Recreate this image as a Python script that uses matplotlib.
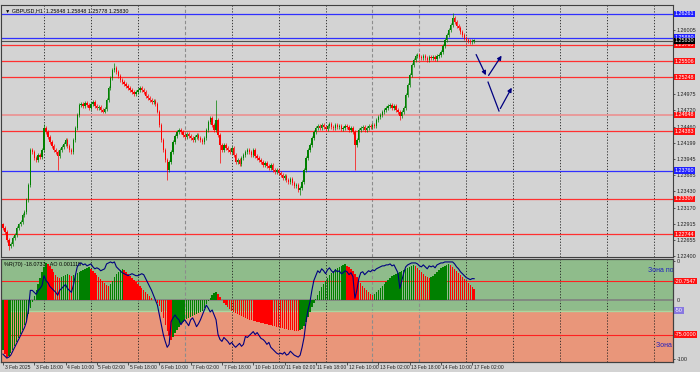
import numpy as np
import matplotlib
matplotlib.use('Agg')
import matplotlib.pyplot as plt

# ---- data ----
first_open = 1.2290
closes = [
    1.2284, 1.2278, 1.2265, 1.2255, 1.2259,
    1.2268, 1.2273, 1.2284, 1.2290, 1.2294, 1.2305, 1.2310,
    1.2329, 1.2353, 1.2409,
    1.2406, 1.2396, 1.2393, 1.2401, 1.2398, 1.2409,
    1.2444, 1.2437,
    1.2429, 1.2421, 1.2415, 1.2409, 1.2406, 1.2399, 1.2409,
    1.2414, 1.2418, 1.2425, 1.2415, 1.2409, 1.2406, 1.2425,
    1.2444, 1.2465, 1.2481, 1.2482,
    1.2479, 1.2484, 1.2481, 1.2476, 1.2482, 1.2485, 1.2479, 1.2476, 1.2477, 1.2473, 1.2470, 1.2474,
    1.2489, 1.2508, 1.2524, 1.2536, 1.2540,
    1.2533, 1.2527, 1.2520, 1.2517, 1.2514,
    1.2511, 1.2508, 1.2505, 1.2501, 1.2498, 1.2501, 1.2505, 1.2508, 1.2505, 1.2501,
    1.2495, 1.2492, 1.2489, 1.2485, 1.2487, 1.2482,
    1.2470, 1.2449, 1.2425, 1.2409,
    1.2393, 1.2377, 1.2390,
    1.2406, 1.2422, 1.2431, 1.2437, 1.2441,
    1.2437, 1.2433, 1.2429, 1.2434, 1.2431, 1.2428, 1.2425, 1.2429, 1.2433, 1.2428, 1.2425, 1.2422, 1.2428,
    1.2441, 1.2453, 1.2460, 1.2449, 1.2441,
    1.2457, 1.2433, 1.2417, 1.2409,
    1.2417, 1.2412, 1.2409, 1.2406, 1.2412, 1.2401, 1.2390,
    1.2393, 1.2387, 1.2396, 1.2401, 1.2406, 1.2409,
    1.2406, 1.2401, 1.2409, 1.2399, 1.2396, 1.2393, 1.2390,
    1.2385, 1.2388, 1.2383, 1.2380, 1.2385, 1.2377, 1.2374, 1.2377,
    1.2372, 1.2369, 1.2364, 1.2367, 1.2361, 1.2358, 1.2363,
    1.2356, 1.2351, 1.2353, 1.2345, 1.2348, 1.2358,
    1.2377, 1.2396, 1.2409, 1.2417, 1.2428, 1.2437, 1.2444,
    1.2447, 1.2444, 1.2449, 1.2445, 1.2442, 1.2447, 1.2450, 1.2445, 1.2444,
    1.2449, 1.2445, 1.2447, 1.2442, 1.2444, 1.2447, 1.2445, 1.2441, 1.2444,
    1.2437, 1.2417, 1.2425, 1.2441,
    1.2444, 1.2445, 1.2441, 1.2444, 1.2447, 1.2445, 1.2449, 1.2447,
    1.2457, 1.2461, 1.2465, 1.2469, 1.2473, 1.2476, 1.2479, 1.2481, 1.2476, 1.2479,
    1.2473, 1.2469, 1.2463, 1.2469, 1.2476,
    1.2497, 1.2512, 1.2528, 1.2544, 1.2552, 1.2559,
    1.2560, 1.2557, 1.2555, 1.2559, 1.2555, 1.2552, 1.2557, 1.2555, 1.2557, 1.2554, 1.2559, 1.2560, 1.2565,
    1.2575, 1.2584, 1.2592, 1.2600, 1.2608,
    1.2619, 1.2613, 1.2607,
    1.2603, 1.2597, 1.2592, 1.2587, 1.2584, 1.2583, 1.2581, 1.2583, 1.2583,
]
# long shadows that stick out of the normal candle range
spike_high = {21: 1.2450, 57: 1.2548, 109: 1.2489, 230: 1.2627}
spike_low = {3: 1.2250, 28: 1.2377, 84: 1.2361, 111: 1.2388, 152: 1.2337, 180: 1.2377, 203: 1.2457}

# Awesome Oscillator, in pips (x 0.0001)
ao_pips = [
    -50, -54, -57, -56, -53,
    -50, -46, -42, -38, -34, -30, -25, -20, -14, -8,
    -2, 4, 10, 16, 22, 28, 33, 37,
    36, 34, 31, 28, 25, 23, 22,
    23, 24, 25, 26, 25, 24, 25,
    26, 27, 28, 29, 30, 31, 32, 33,
    31, 29, 27, 25, 23, 21, 19, 17, 15, 14,
    16, 19, 23, 26, 28, 30, 31, 30,
    28, 26, 24, 22, 20, 18, 16, 14, 12, 10, 8, 6, 4, 2,
    0, -1, -3, -6,
    -12, -18, -25, -31, -36, -40,
    -37, -33, -30, -27, -24, -22, -20, -19, -18, -17, -16, -15, -14, -13, -12, -11,
    -8, -4, -1, 2, 5, 7, 8, 6,
    3, 0, -3, -5, -7, -9, -11, -12, -13, -14, -15, -16, -17,
    -18, -19, -20, -20, -21, -21, -22, -22, -23, -23, -24, -24, -25, -25, -26, -26, -27,
    -27, -28, -28, -29, -29, -30, -30, -30, -31, -31, -31, -30, -29,
    -26, -22, -17, -12, -7, -3, 1,
    5, 9, 13, 16, 19, 22, 25, 27, 29, 31, 32, 33, 34, 35, 36,
    34, 33, 31, 29, 26, 23, 20, 17, 14, 12, 10, 8, 6, 5,
    6, 8, 10, 12, 14, 16, 18, 20, 22, 24, 25, 26, 27, 28, 29, 30, 31, 32, 33, 34, 35,
    34, 32, 30, 28, 26, 24, 23, 22,
    23, 24, 26, 28, 30, 32, 33, 34, 35, 36,
    35, 33, 31, 29, 27, 25, 23, 21, 19, 17, 15, 13, 11,
]

# Williams %R(70)
wpr = [
    -95, -97, -99, -98, -96,
    -92, -88, -84, -80, -76, -72, -68, -62, -50, -30,
    -30, -32, -34, -30, -28, -25,
    -15, -20,
    -22, -26, -28, -30, -32, -35, -30,
    -28, -26, -24, -28, -30, -32, -25,
    -15, -6, -3, -2,
    -4, -3, -5, -4, -3, -6, -8, -7, -8, -10, -9, -8,
    -3, -2, -1, -2, -1,
    -6, -8, -10, -12, -13, -14, -15, -14, -13, -14, -15, -15, -14, -13, -14,
    -18, -22, -26, -30, -35, -40,
    -45, -55, -65, -75, -82, -88, -85,
    -62, -58, -55, -58, -60, -65, -62, -60, -63, -66, -60, -58, -62, -67, -64, -60, -55, -50,
    -45, -48, -52, -50, -55,
    -60, -75, -80, -82,
    -78, -80, -82, -85, -83, -86, -88, -86, -84, -87, -85,
    -77, -78, -76, -74, -72, -75, -73, -76, -79,
    -80, -82, -85, -83, -88, -90, -92, -94,
    -95, -94, -95, -93, -96, -95, -92, -94, -96, -97, -98, -96, -88,
    -78, -62, -50, -42, -30, -20, -15,
    -10, -12, -8, -10, -13, -9, -7, -10, -12, -9, -11, -10, -13, -12, -10, -11, -14, -12,
    -16, -38, -30, -18,
    -12, -11, -14, -12, -10, -11, -9, -10,
    -8, -7, -6, -5, -5, -4, -4, -3, -5, -4,
    -8, -12, -28, -20, -12,
    -6, -4, -3, -2, -2, -2,
    -3, -5, -6, -4, -6, -8, -5, -6, -5, -7, -4, -3, -2,
    -2, -1, -1, -1, -1,
    -1, -3, -6,
    -8, -11, -13, -15, -17, -18, -19, -18, -18.07,
]

blue_levels = [1.26261, 1.25880, 1.23760]
red_levels = [1.25765, 1.25506, 1.25248, 1.24383, 1.23307, 1.22744]
pink_levels = [1.24648]
last_price = 1.25830
price_ticks = [1.22400, 1.22655, 1.22915, 1.23170, 1.23430, 1.23685, 1.23945, 1.24199,
               1.24460, 1.24720, 1.24975, 1.25235, 1.25495, 1.25750, 1.26005, 1.26260]

date_labels = ["3 Feb 2025", "3 Feb 18:00", "4 Feb 10:00", "5 Feb 02:00", "5 Feb 18:00",
               "6 Feb 10:00", "7 Feb 02:00", "7 Feb 18:00", "10 Feb 10:00", "11 Feb 02:00",
               "11 Feb 18:00", "12 Feb 10:00", "13 Feb 02:00", "13 Feb 18:00", "14 Feb 10:00",
               "17 Feb 02:00"]
date_bars = [16 * k for k in range(len(date_labels))]

# hand-drawn forecast arrows (bar, price)
arrow_a = [(241.4, 1.2565), (247.6, 1.2524), (255.8, 1.2563)]
arrow_b = [(248.1, 1.2517), (253.7, 1.2471), (260.9, 1.2512)]

wpr_levels = [-20.7547, -75.0]

BG = '#D3D3D3'
GREEN = '#008000'
RED = '#FF0000'
NAVY = '#000080'
FS = 3.9
FONT = 'Liberation Sans'

plt.rcParams['font.family'] = [FONT, 'DejaVu Sans']

fig = plt.figure(figsize=(7, 3.72), dpi=100, facecolor=BG)
ax = fig.add_axes([1 / 700, 115 / 372, 672 / 700, 252 / 372], facecolor=BG)
ax2 = fig.add_axes([1 / 700, 10 / 372, 672 / 700, 103 / 372], facecolor=BG)

xlim = (-1.0, 342.7)
n = len(closes)
x = np.arange(n)

# ---- candles ----
opens = [first_open] + closes[:-1]
wick = 0.0003
for i in range(n):
    o, c = opens[i], closes[i]
    hi = spike_high.get(i, max(o, c) + wick)
    lo = spike_low.get(i, min(o, c) - wick)
    col = GREEN if c >= o else RED
    ax.vlines(i, lo, hi, color=col, lw=0.5, zorder=3)
    body = c - o if abs(c - o) > 0.00008 else 0.00008
    ax.bar(i, body, bottom=o, width=0.7, color=col, linewidth=0, zorder=3)

# vertical grid
for g in range(21, 343, 24):
    for a in (ax, ax2):
        if g in (93, 189, 213):
            a.axvline(g, color='#8c8c8c', lw=0.8, ls=(0, (3, 2)), zorder=1)
        else:
            a.axvline(g, color='#202020', lw=0.6, ls=(0, (1.5, 2)), zorder=1)

# level lines
for lv in blue_levels:
    ax.axhline(lv, color='#3030FF', lw=0.9, zorder=2)
for lv in red_levels:
    ax.axhline(lv, color='#FF3030', lw=0.9, zorder=2)
for lv in pink_levels:
    ax.axhline(lv, color='#E89A9A', lw=1.4, zorder=2)
ax.axhline(last_price, color='#505050', lw=0.8, zorder=2)

# forecast arrows
for path in (arrow_a, arrow_b):
    (x0, y0), (x1, y1), (x2, y2) = path
    if path is arrow_a:
        ax.annotate('', xy=(x1, y1), xytext=(x0, y0),
                    arrowprops=dict(arrowstyle='-|>', color=NAVY, lw=0.9, mutation_scale=6))
    else:
        ax.plot([x0, x1], [y0, y1], color=NAVY, lw=0.9)
    ax.annotate('', xy=(x2, y2), xytext=(x1, y1),
                arrowprops=dict(arrowstyle='-|>', color=NAVY, lw=0.9, mutation_scale=6))

# price scale: ticks hidden behind a level label are left out, as the terminal does
labelled = blue_levels + red_levels + pink_levels + [last_price]
shown_ticks = [t for t in price_ticks if min(abs(t - lv) for lv in labelled) > 0.0005]

ax.set_xlim(*xlim)
ax.set_ylim(1.22381, 1.26400)
ax.yaxis.tick_right()
ax.set_yticks(shown_ticks)
ax.set_yticklabels([f'{t:.5f}' for t in shown_ticks], fontsize=FS, color='#202020')
ax.tick_params(axis='y', length=1.5, width=0.5, pad=1, colors='#202020')
ax.set_xticks([])
for s in ax.spines.values():
    s.set_color('#404040')
    s.set_linewidth(0.8)

ytr = ax.get_yaxis_transform()
def level_label(a, tr, y, txt, fc):
    a.text(1.003, y, txt, transform=tr, fontsize=FS, color='white', va='center', ha='left',
           bbox=dict(boxstyle='square,pad=0.12', fc=fc, ec='none'), zorder=10, clip_on=False)

for lv in blue_levels:
    level_label(ax, ytr, lv, f'{lv:.5f}', '#2020FF')
for lv in red_levels + pink_levels:
    level_label(ax, ytr, lv, f'{lv:.5f}', '#FF1010')
level_label(ax, ytr, last_price, f'{last_price:.5f}', '#000000')

ax.text(0.006, 0.985, '▼ GBPUSD,H1  1.25848 1.25848 1.25778 1.25830', transform=ax.transAxes,
        fontsize=FS, va='top', ha='left', color='#000000')

# ---- indicator window: Williams %R + AO ----
ax2.set_xlim(*xlim)
ax2.set_ylim(-103, 2)
ax2.axhspan(-50.5, 2, color='#8FBC8B', zorder=0)
ax2.axhspan(-103, -50.5, color='#E9967A', zorder=0)
ax2.axhline(-50.5, color='#A8D8A0', lw=1.0, zorder=1)
for lv in wpr_levels:
    ax2.axhline(lv, color='#FF2020', lw=0.8, zorder=2)

ax3 = ax2.twinx()
ax3.set_ylim(-0.0062, 0.0041)
ao = np.array(ao_pips) * 0.0001
ao_col = [GREEN if i == 0 or ao[i] > ao[i - 1] else RED for i in range(n)]
ax3.bar(x, ao, width=0.7, color=ao_col, linewidth=0, zorder=3)
ax3.axhline(0, color='#808080', lw=1.2, zorder=2)
ax3.set_yticks([])
ax3.set_xlim(*xlim)

ax3.plot(x, np.interp(wpr, [-103, 2], [-0.0062, 0.0041]), color=NAVY, lw=0.8, zorder=4)

ax2.yaxis.tick_right()
ax2.set_yticks([0, -100])
ax2.set_yticklabels(['0', '-100'], fontsize=FS)
ax2.tick_params(axis='y', length=1.5, width=0.5, pad=1, colors='#202020')
ax2.set_xticks(date_bars)
ax2.set_xticklabels([])
ax2.tick_params(axis='x', length=2, width=0.5, direction='out', colors='#202020')
for s in list(ax2.spines.values()) + list(ax3.spines.values()):
    s.set_color('#404040')
    s.set_linewidth(0.8)

xtr = ax2.get_xaxis_transform()
for b, lab in zip(date_bars, date_labels):
    ax2.text(b + 0.8, -0.03, lab, transform=xtr, fontsize=3.6, va='top', ha='left',
             color='#202020', clip_on=False)

ytr2 = ax2.get_yaxis_transform()
level_label(ax2, ytr2, -20.7547, '-20.7547', '#FF1010')
level_label(ax2, ytr2, -75.0, '-75.0000', '#FF1010')
level_label(ax2, ytr2, -50.5, '-50', '#8878E0')
ax2.text(1.006, -39.8, '0', transform=ytr2, fontsize=FS, va='center', ha='left', color='#202020')

ax3.text(0.004, 0.97, '%R(70) -18.0737   AO 0.001115', transform=ax3.transAxes, fontsize=FS,
         va='top', ha='left', color='#000000')
ax2.text(330, -10, 'Зона покупок', fontsize=5, color='#2020C0', va='center', ha='left', clip_on=True)
ax2.text(334, -86, 'Зона продаж', fontsize=5, color='#2020C0', va='center', ha='left', clip_on=True)

fig.savefig('out.png', dpi=100, facecolor=BG)
